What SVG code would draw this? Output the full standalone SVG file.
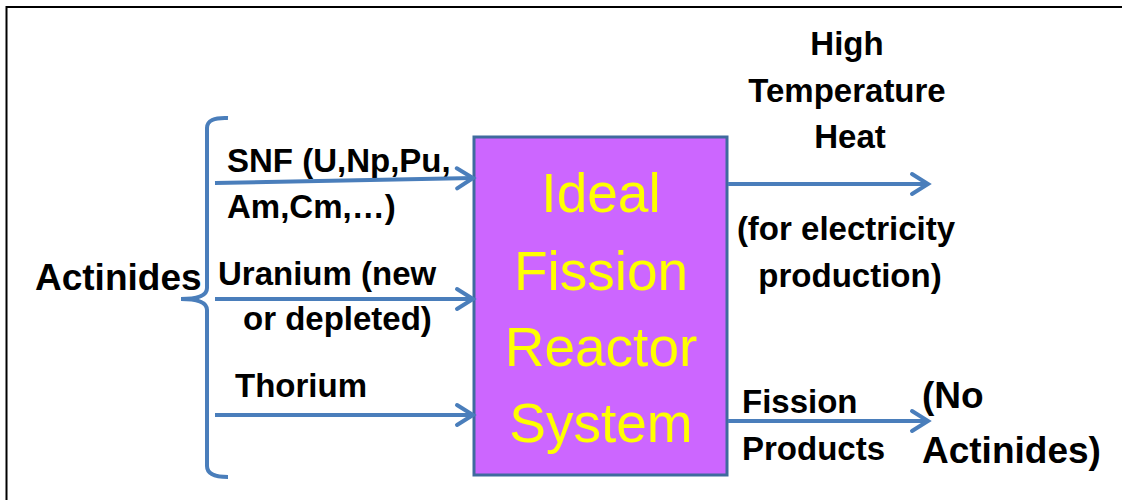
<svg xmlns="http://www.w3.org/2000/svg" width="1122" height="500" viewBox="0 0 1122 500">
<style>
.lbl{font-family:"Liberation Sans",Arial,sans-serif;font-weight:bold;font-size:33px;fill:#000}
.big{font-size:37px}
.box{font-family:"Liberation Sans",Arial,sans-serif;font-size:55px;fill:#FFFF00;text-anchor:middle}
.c{text-anchor:middle}
.con{stroke:#4A7EBB;stroke-width:4;fill:none}
</style>
<defs>
<marker id="ah" markerUnits="userSpaceOnUse" markerWidth="24" markerHeight="26" refX="20" refY="13" orient="auto" viewBox="0 0 24 26">
<path d="M4,3 L20,13 L4,23" fill="none" stroke="#4A7EBB" stroke-width="4" stroke-linecap="round" stroke-linejoin="miter"/>
</marker>
</defs>
<rect width="1122" height="500" fill="#fff"/>
<path d="M6.5,500 V7 H1122" fill="none" stroke="#000" stroke-width="2"/>
<g id="bracket">
<path d="M228,118 Q207,117 207,128 V288 Q207,299 181,299 Q207,299 207,310 V466 Q207,477 228,477" class="con"/>
</g>
<g id="actinides">
<text class="lbl big" x="35" y="290">Actinides</text>
</g>
<g id="reactor">
<rect x="474" y="137" width="253" height="338" fill="#CC66FF" stroke="#3F6A9E" stroke-width="3"/>
<text class="box" x="601" y="212">Ideal</text>
<text class="box" x="601" y="290">Fission</text>
<text class="box" x="601" y="366">Reactor</text>
<text class="box" x="601" y="442">System</text>
</g>
<g id="snf">
<text class="lbl" x="227" y="172">SNF (U,Np,Pu,</text>
<text class="lbl" x="227" y="218">Am,Cm,…)</text>
</g>
<g id="uranium">
<text class="lbl" x="218" y="285">Uranium (new</text>
<text class="lbl" x="243" y="330">or depleted)</text>
</g>
<g id="thorium">
<text class="lbl" x="235" y="397">Thorium</text>
</g>
<g id="heat">
<text class="lbl c" x="847" y="55">High</text>
<text class="lbl c" x="847" y="102">Temperature</text>
<text class="lbl c" x="850" y="148">Heat</text>
<text class="lbl c" x="846" y="240">(for electricity</text>
<text class="lbl c" x="850" y="287">production)</text>
</g>
<g id="fission-products">
<text class="lbl" x="742" y="413">Fission</text>
<text class="lbl" x="742" y="460">Products</text>
</g>
<g id="no-actinides">
<text class="lbl big" x="922" y="408">(No</text>
<text class="lbl big" x="922" y="463">Actinides)</text>
</g>
<g id="connectors">
<line class="con" x1="215" y1="183" x2="473" y2="178" marker-end="url(#ah)"/>
<line class="con" x1="215" y1="299" x2="473" y2="299" marker-end="url(#ah)"/>
<line class="con" x1="215" y1="415" x2="473" y2="415" marker-end="url(#ah)"/>
<line class="con" x1="728" y1="184" x2="928" y2="184" marker-end="url(#ah)"/>
<line class="con" x1="728" y1="421" x2="928" y2="421" marker-end="url(#ah)"/>
</g>
</svg>
